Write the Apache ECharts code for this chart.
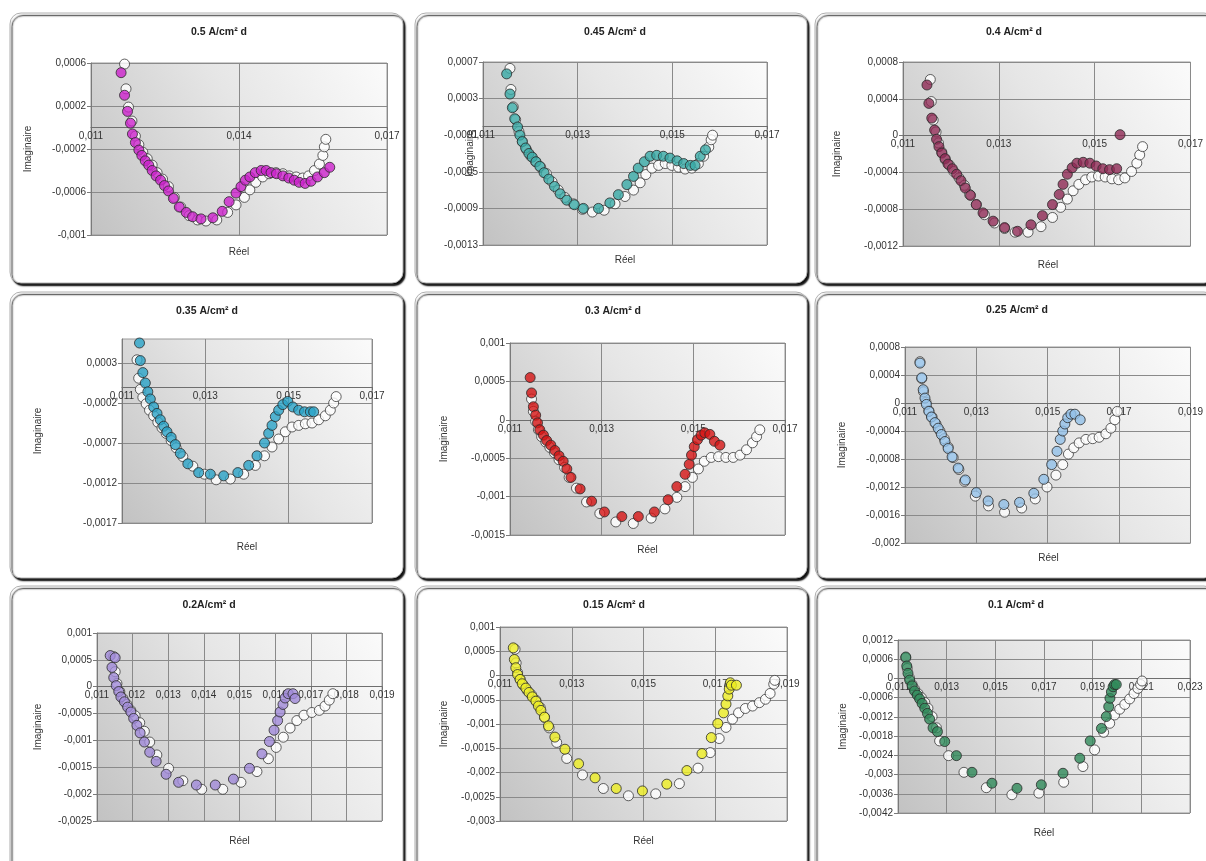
<!DOCTYPE html>
<html><head><meta charset="utf-8">
<script src="https://cdn.jsdelivr.net/npm/echarts@6/dist/echarts.min.js"></script>
<style>html,body{margin:0;padding:0;background:#fff;}#c{width:1206px;height:861px;}</style>
</head><body><div id="c"></div>
<script>
// ---------------- DATA ----------------
const TITLES = ['0.5 A/cm² d','0.45 A/cm² d','0.4 A/cm² d','0.35 A/cm² d','0.3 A/cm² d','0.25 A/cm² d','0.2A/cm² d','0.15 A/cm² d','0.1 A/cm² d'];
const X_NAME = 'Réel';
const Y_NAME = 'Imaginaire';

const X_TICKS_1 = [0.011, 0.014, 0.017];
const Y_TICKS_1 = [-0.001, -0.0006, -0.0002, 0.0002, 0.0006];
const X_TICKS_2 = [0.011, 0.013, 0.015, 0.017];
const Y_TICKS_2 = [-0.0013, -0.0009, -0.0005, -0.0001, 0.0003, 0.0007];
const X_TICKS_3 = [0.011, 0.013, 0.015, 0.017];
const Y_TICKS_3 = [-0.0012, -0.0008, -0.0004, 0, 0.0004, 0.0008];
const X_TICKS_4 = [0.011, 0.013, 0.015, 0.017];
const Y_TICKS_4 = [-0.0017, -0.0012, -0.0007, -0.0002, 0.0003];
const X_TICKS_5 = [0.011, 0.013, 0.015, 0.017];
const Y_TICKS_5 = [-0.0015, -0.001, -0.0005, 0, 0.0005, 0.001];
const X_TICKS_6 = [0.011, 0.013, 0.015, 0.017, 0.019];
const Y_TICKS_6 = [-0.002, -0.0016, -0.0012, -0.0008, -0.0004, 0, 0.0004, 0.0008];
const X_TICKS_7 = [0.011, 0.012, 0.013, 0.014, 0.015, 0.016, 0.017, 0.018, 0.019];
const Y_TICKS_7 = [-0.0025, -0.002, -0.0015, -0.001, -0.0005, 0, 0.0005, 0.001];
const X_TICKS_8 = [0.011, 0.013, 0.015, 0.017, 0.019];
const Y_TICKS_8 = [-0.003, -0.0025, -0.002, -0.0015, -0.001, -0.0005, 0, 0.0005, 0.001];
const X_TICKS_9 = [0.011, 0.013, 0.015, 0.017, 0.019, 0.021, 0.023];
const Y_TICKS_9 = [-0.0042, -0.0036, -0.003, -0.0024, -0.0018, -0.0012, -0.0006, 0, 0.0006, 0.0012];

const p1Filled = [[0.01161,0.00051],[0.01168,0.00030],[0.01174,0.00015],[0.01180,0.00004],[0.01184,-0.00006],[0.01190,-0.00014],[0.01197,-0.00021],[0.01203,-0.00026],[0.01210,-0.00031],[0.01217,-0.00035],[0.01224,-0.00040],[0.01232,-0.00045],[0.01241,-0.00049],[0.01249,-0.00054],[0.01257,-0.00059],[0.01267,-0.00066],[0.01279,-0.00074],[0.01293,-0.00079],[0.01306,-0.00083],[0.01323,-0.00085],[0.01347,-0.00084],[0.01366,-0.00078],[0.01380,-0.00069],[0.01394,-0.00061],[0.01404,-0.00055],[0.01413,-0.00049],[0.01422,-0.00046],[0.01433,-0.00042],[0.01445,-0.00040],[0.01455,-0.00040],[0.01465,-0.00042],[0.01476,-0.00043],[0.01489,-0.00045],[0.01501,-0.00047],[0.01512,-0.00049],[0.01522,-0.00051],[0.01534,-0.00052],[0.01546,-0.00050],[0.01559,-0.00046],[0.01573,-0.00042],[0.01584,-0.00037]];
const p1Open = [[0.01168,0.00059],[0.01171,0.00036],[0.01176,0.00019],[0.01183,0.00006],[0.01190,-0.00008],[0.01197,-0.00016],[0.01205,-0.00023],[0.01214,-0.00029],[0.01224,-0.00035],[0.01234,-0.00042],[0.01245,-0.00048],[0.01257,-0.00055],[0.01269,-0.00065],[0.01282,-0.00074],[0.01299,-0.00082],[0.01316,-0.00086],[0.01333,-0.00087],[0.01355,-0.00086],[0.01377,-0.00079],[0.01394,-0.00072],[0.01411,-0.00065],[0.01422,-0.00058],[0.01434,-0.00051],[0.01448,-0.00046],[0.01461,-0.00043],[0.01475,-0.00042],[0.01489,-0.00043],[0.01502,-0.00045],[0.01516,-0.00046],[0.01529,-0.00047],[0.01541,-0.00045],[0.01553,-0.00040],[0.01563,-0.00034],[0.01570,-0.00026],[0.01573,-0.00018],[0.01576,-0.00011]];

const p2Filled = [[0.01150,0.00057],[0.01157,0.00035],[0.01162,0.00020],[0.01167,0.00008],[0.01173,-0.00001],[0.01178,-0.00010],[0.01183,-0.00017],[0.01190,-0.00024],[0.01197,-0.00030],[0.01204,-0.00034],[0.01212,-0.00039],[0.01220,-0.00044],[0.01229,-0.00051],[0.01239,-0.00058],[0.01251,-0.00066],[0.01263,-0.00074],[0.01277,-0.00081],[0.01293,-0.00086],[0.01312,-0.00090],[0.01344,-0.00090],[0.01368,-0.00084],[0.01386,-0.00075],[0.01404,-0.00064],[0.01418,-0.00055],[0.01428,-0.00046],[0.01441,-0.00039],[0.01453,-0.00033],[0.01467,-0.00032],[0.01481,-0.00033],[0.01495,-0.00035],[0.01510,-0.00038],[0.01524,-0.00041],[0.01538,-0.00043],[0.01548,-0.00043],[0.01559,-0.00033],[0.01570,-0.00026]];
const p2Open = [[0.01157,0.00063],[0.01159,0.00040],[0.01164,0.00021],[0.01169,0.00007],[0.01176,-0.00006],[0.01183,-0.00017],[0.01192,-0.00026],[0.01201,-0.00033],[0.01211,-0.00039],[0.01222,-0.00045],[0.01234,-0.00052],[0.01246,-0.00061],[0.01259,-0.00070],[0.01273,-0.00078],[0.01291,-0.00085],[0.01310,-0.00091],[0.01331,-0.00094],[0.01356,-0.00092],[0.01379,-0.00085],[0.01400,-0.00077],[0.01418,-0.00070],[0.01432,-0.00062],[0.01444,-0.00053],[0.01457,-0.00046],[0.01471,-0.00043],[0.01485,-0.00041],[0.01499,-0.00043],[0.01513,-0.00045],[0.01527,-0.00047],[0.01541,-0.00046],[0.01555,-0.00041],[0.01566,-0.00033],[0.01577,-0.00023],[0.01582,-0.00015],[0.01585,-0.00010]];

const p3Filled = [[0.01150,0.00055],[0.01154,0.00035],[0.01160,0.00019],[0.01166,0.00006],[0.01170,-0.00004],[0.01175,-0.00012],[0.01181,-0.00019],[0.01188,-0.00025],[0.01194,-0.00031],[0.01203,-0.00036],[0.01212,-0.00042],[0.01221,-0.00049],[0.01230,-0.00057],[0.01241,-0.00065],[0.01253,-0.00075],[0.01267,-0.00084],[0.01288,-0.00093],[0.01312,-0.00100],[0.01339,-0.00104],[0.01367,-0.00097],[0.01391,-0.00087],[0.01412,-0.00075],[0.01426,-0.00064],[0.01434,-0.00053],[0.01443,-0.00042],[0.01453,-0.00035],[0.01463,-0.00030],[0.01476,-0.00029],[0.01490,-0.00030],[0.01503,-0.00033],[0.01517,-0.00036],[0.01531,-0.00037],[0.01546,-0.00036],[0.01553,0.00001]];
const p3Open = [[0.01157,0.00061],[0.01159,0.00037],[0.01163,0.00017],[0.01169,0.00004],[0.01174,-0.00008],[0.01181,-0.00018],[0.01188,-0.00026],[0.01197,-0.00032],[0.01206,-0.00039],[0.01217,-0.00046],[0.01228,-0.00054],[0.01239,-0.00064],[0.01253,-0.00075],[0.01270,-0.00086],[0.01291,-0.00095],[0.01312,-0.00101],[0.01334,-0.00105],[0.01361,-0.00105],[0.01388,-0.00099],[0.01412,-0.00089],[0.01429,-0.00078],[0.01443,-0.00069],[0.01455,-0.00060],[0.01467,-0.00053],[0.01481,-0.00048],[0.01494,-0.00045],[0.01508,-0.00044],[0.01522,-0.00045],[0.01536,-0.00047],[0.01550,-0.00048],[0.01563,-0.00046],[0.01577,-0.00039],[0.01588,-0.00030],[0.01594,-0.00021],[0.01600,-0.00012]];

const p4Filled = [[0.01142,0.00055],[0.01144,0.00033],[0.01150,0.00018],[0.01156,0.00005],[0.01162,-0.00006],[0.01168,-0.00015],[0.01176,-0.00025],[0.01184,-0.00033],[0.01192,-0.00041],[0.01200,-0.00049],[0.01208,-0.00056],[0.01218,-0.00063],[0.01228,-0.00072],[0.01240,-0.00083],[0.01258,-0.00096],[0.01284,-0.00107],[0.01312,-0.00109],[0.01344,-0.00111],[0.01378,-0.00107],[0.01404,-0.00098],[0.01424,-0.00086],[0.01442,-0.00070],[0.01452,-0.00058],[0.01460,-0.00048],[0.01468,-0.00037],[0.01476,-0.00029],[0.01486,-0.00022],[0.01498,-0.00018],[0.01510,-0.00025],[0.01524,-0.00029],[0.01538,-0.00031],[0.01552,-0.00031],[0.01560,-0.00031]];
const p4Open = [[0.01136,0.00034],[0.01140,0.00011],[0.01144,-0.00003],[0.01150,-0.00013],[0.01158,-0.00021],[0.01166,-0.00029],[0.01176,-0.00036],[0.01186,-0.00044],[0.01196,-0.00051],[0.01206,-0.00058],[0.01218,-0.00067],[0.01230,-0.00076],[0.01246,-0.00087],[0.01270,-0.00099],[0.01298,-0.00109],[0.01326,-0.00116],[0.01360,-0.00115],[0.01392,-0.00109],[0.01420,-0.00098],[0.01442,-0.00086],[0.01460,-0.00075],[0.01476,-0.00065],[0.01492,-0.00056],[0.01508,-0.00050],[0.01524,-0.00048],[0.01540,-0.00046],[0.01556,-0.00045],[0.01572,-0.00041],[0.01588,-0.00036],[0.01600,-0.00029],[0.01608,-0.00020],[0.01614,-0.00012]];

const p5Filled = [[0.01144,0.00055],[0.01147,0.00035],[0.01151,0.00017],[0.01156,0.00006],[0.01160,-0.00004],[0.01165,-0.00013],[0.01173,-0.00020],[0.01180,-0.00027],[0.01189,-0.00033],[0.01198,-0.00040],[0.01207,-0.00047],[0.01216,-0.00054],[0.01224,-0.00064],[0.01233,-0.00075],[0.01253,-0.00090],[0.01278,-0.00106],[0.01306,-0.00120],[0.01344,-0.00126],[0.01380,-0.00126],[0.01415,-0.00120],[0.01445,-0.00104],[0.01464,-0.00087],[0.01482,-0.00071],[0.01491,-0.00058],[0.01496,-0.00046],[0.01502,-0.00035],[0.01509,-0.00026],[0.01517,-0.00020],[0.01525,-0.00017],[0.01536,-0.00019],[0.01546,-0.00028],[0.01558,-0.00033]];
const p5Open = [[0.01147,0.00027],[0.01151,0.00011],[0.01156,-0.00002],[0.01162,-0.00013],[0.01169,-0.00022],[0.01178,-0.00029],[0.01187,-0.00036],[0.01197,-0.00043],[0.01207,-0.00052],[0.01219,-0.00062],[0.01229,-0.00075],[0.01245,-0.00089],[0.01267,-0.00107],[0.01296,-0.00122],[0.01331,-0.00133],[0.01369,-0.00135],[0.01408,-0.00128],[0.01438,-0.00116],[0.01464,-0.00101],[0.01482,-0.00087],[0.01498,-0.00075],[0.01511,-0.00064],[0.01524,-0.00054],[0.01539,-0.00049],[0.01555,-0.00048],[0.01571,-0.00049],[0.01587,-0.00049],[0.01602,-0.00046],[0.01616,-0.00039],[0.01629,-0.00030],[0.01638,-0.00022],[0.01645,-0.00013]];

const p6Filled = [[0.01142,0.00057],[0.01147,0.00036],[0.01151,0.00019],[0.01156,0.00007],[0.01160,-0.00002],[0.01167,-0.00012],[0.01174,-0.00020],[0.01184,-0.00028],[0.01193,-0.00036],[0.01202,-0.00045],[0.01212,-0.00055],[0.01221,-0.00065],[0.01232,-0.00077],[0.01249,-0.00093],[0.01269,-0.00110],[0.01300,-0.00128],[0.01333,-0.00140],[0.01377,-0.00145],[0.01421,-0.00142],[0.01461,-0.00129],[0.01489,-0.00109],[0.01511,-0.00088],[0.01526,-0.00069],[0.01535,-0.00052],[0.01542,-0.00040],[0.01548,-0.00030],[0.01556,-0.00021],[0.01565,-0.00016],[0.01576,-0.00016],[0.01591,-0.00024]];
const p6Open = [[0.01142,0.00059],[0.01147,0.00035],[0.01152,0.00016],[0.01159,0.00001],[0.01167,-0.00011],[0.01176,-0.00020],[0.01187,-0.00030],[0.01198,-0.00040],[0.01210,-0.00051],[0.01221,-0.00063],[0.01235,-0.00078],[0.01251,-0.00095],[0.01267,-0.00112],[0.01297,-0.00133],[0.01334,-0.00147],[0.01379,-0.00156],[0.01427,-0.00150],[0.01465,-0.00137],[0.01498,-0.00120],[0.01523,-0.00103],[0.01542,-0.00088],[0.01558,-0.00073],[0.01573,-0.00064],[0.01588,-0.00057],[0.01607,-0.00052],[0.01626,-0.00051],[0.01644,-0.00049],[0.01663,-0.00044],[0.01677,-0.00036],[0.01688,-0.00024],[0.01695,-0.00012]];

const p7Filled = [[0.01137,0.00058],[0.01151,0.00054],[0.01142,0.00036],[0.01147,0.00017],[0.01154,0.00002],[0.01161,-0.00009],[0.01167,-0.00019],[0.01177,-0.00028],[0.01186,-0.00038],[0.01195,-0.00047],[0.01203,-0.00059],[0.01212,-0.00072],[0.01221,-0.00086],[0.01233,-0.00103],[0.01248,-0.00122],[0.01266,-0.00139],[0.01294,-0.00163],[0.01329,-0.00178],[0.01379,-0.00183],[0.01432,-0.00183],[0.01483,-0.00172],[0.01528,-0.00152],[0.01563,-0.00125],[0.01584,-0.00102],[0.01597,-0.00081],[0.01607,-0.00063],[0.01614,-0.00047],[0.01622,-0.00033],[0.01628,-0.00021],[0.01637,-0.00013],[0.01650,-0.00013],[0.01656,-0.00022]];
const p7Open = [[0.01147,0.00056],[0.01151,0.00028],[0.01156,0.00006],[0.01164,-0.00009],[0.01173,-0.00022],[0.01184,-0.00033],[0.01195,-0.00044],[0.01207,-0.00054],[0.01220,-0.00067],[0.01233,-0.00083],[0.01248,-0.00103],[0.01268,-0.00127],[0.01301,-0.00152],[0.01341,-0.00175],[0.01394,-0.00191],[0.01453,-0.00191],[0.01504,-0.00178],[0.01549,-0.00158],[0.01581,-0.00134],[0.01603,-0.00113],[0.01623,-0.00094],[0.01642,-0.00077],[0.01661,-0.00063],[0.01681,-0.00053],[0.01703,-0.00048],[0.01724,-0.00044],[0.01740,-0.00036],[0.01752,-0.00025],[0.01762,-0.00013]];

const p8Filled = [[0.01137,0.00057],[0.01140,0.00033],[0.01144,0.00016],[0.01149,0.00002],[0.01156,-0.00008],[0.01162,-0.00017],[0.01172,-0.00026],[0.01181,-0.00035],[0.01190,-0.00044],[0.01200,-0.00053],[0.01207,-0.00063],[0.01214,-0.00072],[0.01224,-0.00086],[0.01235,-0.00104],[0.01253,-0.00127],[0.01281,-0.00152],[0.01319,-0.00182],[0.01365,-0.00211],[0.01424,-0.00233],[0.01497,-0.00238],[0.01565,-0.00224],[0.01621,-0.00196],[0.01663,-0.00161],[0.01689,-0.00128],[0.01707,-0.00099],[0.01723,-0.00077],[0.01730,-0.00059],[0.01735,-0.00042],[0.01739,-0.00028],[0.01742,-0.00015],[0.01745,-0.00020],[0.01759,-0.00020]];
const p8Open = [[0.01142,0.00054],[0.01145,0.00026],[0.01149,0.00006],[0.01156,-0.00008],[0.01165,-0.00020],[0.01176,-0.00031],[0.01188,-0.00040],[0.01200,-0.00051],[0.01212,-0.00066],[0.01224,-0.00086],[0.01237,-0.00108],[0.01258,-0.00138],[0.01286,-0.00171],[0.01330,-0.00205],[0.01388,-0.00233],[0.01458,-0.00248],[0.01534,-0.00244],[0.01600,-0.00223],[0.01652,-0.00191],[0.01686,-0.00159],[0.01711,-0.00130],[0.01730,-0.00107],[0.01748,-0.00090],[0.01765,-0.00077],[0.01784,-0.00068],[0.01804,-0.00063],[0.01823,-0.00056],[0.01840,-0.00049],[0.01853,-0.00037],[0.01863,-0.00018],[0.01866,-0.00010]];

const p9Filled = [[0.01132,0.00067],[0.01136,0.00039],[0.01141,0.00016],[0.01148,-0.00005],[0.01158,-0.00023],[0.01168,-0.00039],[0.01179,-0.00052],[0.01189,-0.00064],[0.01199,-0.00078],[0.01210,-0.00093],[0.01221,-0.00109],[0.01230,-0.00127],[0.01244,-0.00154],[0.01262,-0.00166],[0.01292,-0.00197],[0.01340,-0.00241],[0.01404,-0.00293],[0.01486,-0.00327],[0.01589,-0.00343],[0.01689,-0.00332],[0.01778,-0.00296],[0.01847,-0.00249],[0.01890,-0.00195],[0.01936,-0.00156],[0.01956,-0.00119],[0.01966,-0.00088],[0.01971,-0.00062],[0.01977,-0.00042],[0.01984,-0.00026],[0.01990,-0.00019],[0.01997,-0.00019]];
const p9Open = [[0.01132,0.00064],[0.01138,0.00031],[0.01147,0.00002],[0.01158,-0.00019],[0.01168,-0.00033],[0.01182,-0.00047],[0.01196,-0.00060],[0.01210,-0.00075],[0.01223,-0.00093],[0.01240,-0.00119],[0.01258,-0.00154],[0.01271,-0.00195],[0.01308,-0.00241],[0.01371,-0.00293],[0.01463,-0.00341],[0.01568,-0.00363],[0.01679,-0.00358],[0.01781,-0.00324],[0.01860,-0.00275],[0.01908,-0.00223],[0.01945,-0.00168],[0.01970,-0.00140],[0.01990,-0.00114],[0.02011,-0.00096],[0.02032,-0.00081],[0.02052,-0.00064],[0.02070,-0.00047],[0.02086,-0.00031],[0.02097,-0.00019],[0.02103,-0.00008]];

// ---------------- LAYOUT / STYLE ----------------
const PANELS = [
 {f:p1Filled,o:p1Open,c:'#cc22cc',xr:[0.011,0.017],xt:X_TICKS_1,yr:[-0.001,0.0006],yt:Y_TICKS_1,frame:[10,13,393,270],g:[91,63,387,235],tt:[219,33],ix:28,ry:252},
 {f:p2Filled,o:p2Open,c:'#38aaa6',xr:[0.011,0.017],xt:X_TICKS_2,yr:[-0.0013,0.0007],yt:Y_TICKS_2,frame:[415,13,392,270],g:[483,62,767,245],tt:[615,33],ix:470,ry:260},
 {f:p3Filled,o:p3Open,c:'#8e2a55',xr:[0.011,0.017],xt:X_TICKS_3,yr:[-0.0012,0.0008],yt:Y_TICKS_3,frame:[815,13,400,270],g:[903,62,1193,246],tt:[1014,33],ix:837,ry:265},
 {f:p4Filled,o:p4Open,c:'#2aa4c8',xr:[0.011,0.017],xt:X_TICKS_4,yr:[-0.0017,0.0006],yt:Y_TICKS_4,frame:[10,292,393,286],g:[122,339,372,523],tt:[207,312],ix:38,ry:547},
 {f:p5Filled,o:p5Open,c:'#d41414',xr:[0.011,0.017],xt:X_TICKS_5,yr:[-0.0015,0.001],yt:Y_TICKS_5,frame:[415,292,392,286],g:[510,343,785,535],tt:[613,312],ix:444,ry:550},
 {f:p6Filled,o:p6Open,c:'#92c0e8',xr:[0.011,0.019],xt:X_TICKS_6,yr:[-0.002,0.0008],yt:Y_TICKS_6,frame:[815,292,400,286],g:[905,347,1192,543],tt:[1017,311],ix:842,ry:558},
 {f:p7Filled,o:p7Open,c:'#a08ad8',xr:[0.011,0.019],xt:X_TICKS_7,yr:[-0.0025,0.001],yt:Y_TICKS_7,frame:[10,586,393,290],g:[97,633,382,821],tt:[209,606],ix:38,ry:841},
 {f:p8Filled,o:p8Open,c:'#eeee22',xr:[0.011,0.019],xt:X_TICKS_8,yr:[-0.003,0.001],yt:Y_TICKS_8,frame:[415,586,392,290],g:[500,627,787,821],tt:[614,606],ix:444,ry:841},
 {f:p9Filled,o:p9Open,c:'#2f8a5a',xr:[0.011,0.023],xt:X_TICKS_9,yr:[-0.0042,0.0012],yt:Y_TICKS_9,frame:[815,586,400,290],g:[898,640,1190,813],tt:[1016,606],ix:843,ry:833}
];

const FONT = 'Liberation Sans, Arial, sans-serif';
const fmt = v => String(+(+v).toPrecision(6)).replace('.', ',');

const grid = [], xAxis = [], yAxis = [], series = [], title = [], graphic = [];
PANELS.forEach((p, i) => {
  const [fx, fy, fw, fh] = p.frame;
  graphic.push({type:'rect', z:-10, silent:true, shape:{x:fx, y:fy, width:fw, height:fh, r:11},
    style:{fill:'#ffffff', stroke:'#b0b0b0', lineWidth:1, shadowColor:'rgba(0,0,0,0.95)', shadowOffsetX:2, shadowOffsetY:2.5, shadowBlur:1.5}});
  const [l, t, r, b] = p.g;
  // x axis crosses the value axis at zero: shift it up from the bottom edge by the zero position of the y scale
  const zeroFromBottom = (0 - p.yr[0]) / (p.yr[1] - p.yr[0]) * (b - t);
  grid.push({left:l, top:t, width:r-l, height:b-t, show:true, z:0,
    backgroundColor:new echarts.graphic.LinearGradient(0,1,1,0,[{offset:0,color:'#c2c2c2'},{offset:0.55,color:'#e6e6e6'},{offset:1,color:'#fbfbfb'}]),
    borderColor:'#9a9a9a', borderWidth:1});
  xAxis.push({type:'value', gridIndex:i, min:p.xr[0], max:p.xr[1], offset:-zeroFromBottom,
    axisLine:{show:true, onZero:false, lineStyle:{color:'#6e6e6e', width:1}},
    axisTick:{show:true, length:3, inside:false, customValues:p.xt, lineStyle:{color:'#6e6e6e'}},
    axisLabel:{customValues:p.xt, formatter:fmt, color:'#333', fontFamily:FONT, fontSize:10, margin:4, showMinLabel:true, showMaxLabel:true},
    splitLine:{show:true, lineStyle:{color:'#8a8a8a', width:1}}});
  yAxis.push({type:'value', gridIndex:i, min:p.yr[0], max:p.yr[1],
    axisLine:{show:true, onZero:false, lineStyle:{color:'#7a7a7a'}},
    axisTick:{show:true, length:4, customValues:p.yt, lineStyle:{color:'#7a7a7a'}},
    axisLabel:{customValues:p.yt, formatter:fmt, color:'#333', fontFamily:FONT, fontSize:10, margin:5, showMinLabel:true, showMaxLabel:true},
    splitLine:{show:true, lineStyle:{color:'#8a8a8a', width:1}}});
  series.push({type:'scatter', xAxisIndex:i, yAxisIndex:i, data:p.o, symbol:'circle', symbolSize:10, z:3,
    itemStyle:{color:'#ffffff', borderColor:'#3a3a3a', borderWidth:1}});
  series.push({type:'scatter', xAxisIndex:i, yAxisIndex:i, data:p.f, symbol:'circle', symbolSize:10, z:4,
    itemStyle:{color:p.c, borderColor:'#2a2a2a', borderWidth:1}});
  title.push({text:TITLES[i], left:p.tt[0], top:p.tt[1]-6, textAlign:'center', padding:0,
    textStyle:{fontFamily:FONT, fontSize:10.5, fontWeight:'bold', color:'#222'}});
  graphic.push({type:'text', z:10, silent:true, x:p.ix, y:(t+b)/2, rotation:Math.PI/2,
    style:{text:Y_NAME, fontFamily:FONT, fontSize:10, fill:'#333', align:'center', verticalAlign:'middle'}});
  graphic.push({type:'text', z:10, silent:true, x:(l+r)/2, y:p.ry,
    style:{text:X_NAME, fontFamily:FONT, fontSize:10, fill:'#333', align:'center', verticalAlign:'middle'}});
});

const chart = echarts.init(document.getElementById('c'), null, {renderer:'canvas'});
chart.setOption({animation:false, backgroundColor:'#ffffff', title, grid, xAxis, yAxis, series, graphic});
</script>
</body></html>
